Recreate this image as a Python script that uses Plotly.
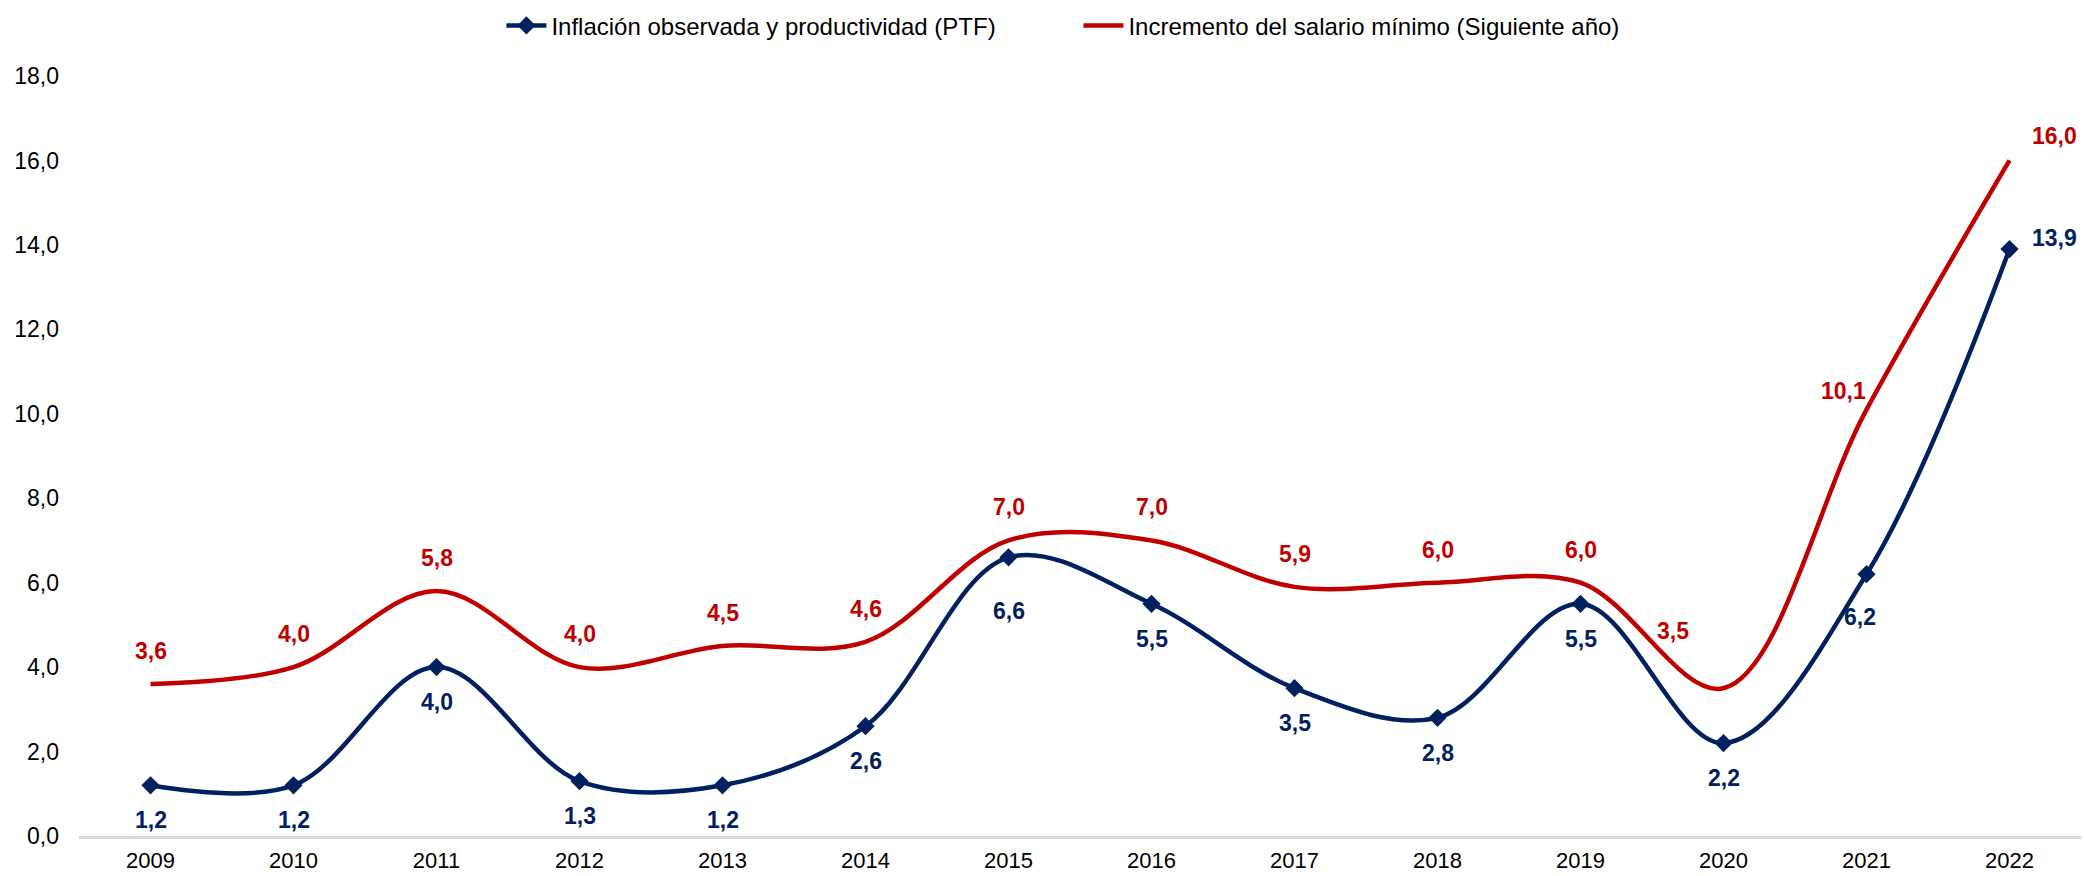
import plotly.graph_objects as go

years = [2009, 2010, 2011, 2012, 2013, 2014, 2015, 2016, 2017, 2018, 2019, 2020, 2021, 2022]
inflacion = [1.2, 1.2, 4.0, 1.3, 1.2, 2.6, 6.6, 5.5, 3.5, 2.8, 5.5, 2.2, 6.2, 13.9]
salario = [3.6, 4.0, 5.8, 4.0, 4.5, 4.6, 7.0, 7.0, 5.9, 6.0, 6.0, 3.5, 10.1, 16.0]
y_ticks = [0, 2, 4, 6, 8, 10, 12, 14, 16, 18]

name_inf = "Inflación observada y productividad (PTF)"
name_sal = "Incremento del salario mínimo (Siguiente año)"

BLUE = "#002060"
RED = "#C00000"
FONT = "Liberation Sans, Arial, sans-serif"

# label offsets in px (style only): (xshift, yshift) ; yshift positive = up
inf_shift = [(0, -35)] * 14
inf_shift[6] = (0, -54)
inf_shift[12] = (-7, -43)
inf_shift[13] = (45, 11)
sal_shift = [(0, 33)] * 14
sal_shift[11] = (-51, 57)
sal_shift[12] = (-23, 19)
sal_shift[13] = (45, 24)

fig = go.Figure()
fig.add_trace(go.Scatter(
    x=years, y=salario, name=name_sal, mode="lines",
    line=dict(color=RED, width=4.5, shape="spline", smoothing=1.0),
    hoverinfo="skip"))
fig.add_trace(go.Scatter(
    x=years, y=inflacion, name=name_inf, mode="lines+markers",
    line=dict(color=BLUE, width=4.5, shape="spline", smoothing=1.0),
    marker=dict(symbol="diamond", size=14, color=BLUE),
    hoverinfo="skip"))

def fmt(v):
    return f"{v:.1f}".replace(".", ",")

annotations = []
for x, v, (dx, dy) in zip(years, inflacion, inf_shift):
    annotations.append(dict(x=x, y=v, text=fmt(v), showarrow=False,
                            xanchor="center", yanchor="middle", xshift=dx, yshift=dy,
                            font=dict(family=FONT, size=23, color=BLUE, weight="bold")))
for x, v, (dx, dy) in zip(years, salario, sal_shift):
    annotations.append(dict(x=x, y=v, text=fmt(v), showarrow=False,
                            xanchor="center", yanchor="middle", xshift=dx, yshift=dy,
                            font=dict(family=FONT, size=23, color=RED, weight="bold")))

fig.update_layout(
    width=2084, height=876,
    margin=dict(l=79, r=3, t=74, b=40),
    paper_bgcolor="white", plot_bgcolor="white",
    separators=",.",
    font=dict(family=FONT, size=23, color="#000000"),
    showlegend=True,
    legend=dict(orientation="h", x=0.211, xanchor="left", y=1.066, yanchor="middle",
                font=dict(family=FONT, size=24, color="#000000"),
                traceorder="reversed", entrywidth=522, itemwidth=40,
                bgcolor="rgba(0,0,0,0)"),
    annotations=annotations,
    xaxis=dict(range=[2008.5, 2022.5], tickmode="array", tickvals=years,
               ticktext=[str(y) for y in years], showgrid=False, zeroline=False,
               showline=True, linecolor="#D9D9D9", linewidth=3, ticks="",
               ticklabelstandoff=3, automargin=False,
               tickfont=dict(family=FONT, size=22, color="#000000")),
    yaxis=dict(range=[0, 18], tickmode="array", tickvals=y_ticks, tickformat=".1f",
               showgrid=False, zeroline=False, showline=False, ticks="",
               ticklabelstandoff=19, automargin=False,
               tickfont=dict(family=FONT, size=23, color="#000000")),
)

fig.write_html("out.html", config={"displayModeBar": False},
               post_script="document.body.style.margin='0px';")
